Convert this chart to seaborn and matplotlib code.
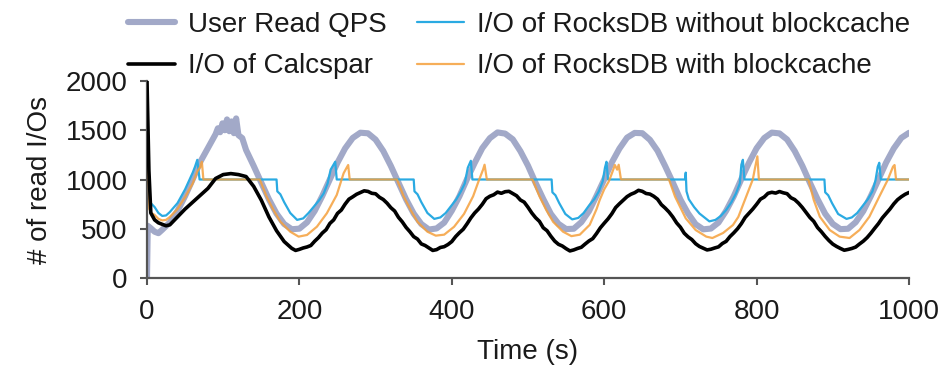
"""
Read I/O over time: user QPS vs. Calcspar vs. RocksDB (with / without blockcache).
"""

import matplotlib
matplotlib.use('Agg')
import matplotlib.pyplot as plt
import seaborn as sns

# ---- data --------------------------------------------------------------------------

# User read QPS
qps_time = [0, 1, 5, 10, 15, 20, 30, 40, 50, 60, 70, 80, 85, 90, 93, 96, 99, 102, 105,
            108, 111, 114, 117, 120, 125, 130, 140, 150, 160, 170, 180] + list(range(190, 1001, 10))
qps_vals = [0, 530, 505, 470, 455, 490, 565, 680, 832, 1002, 1180, 1320, 1390, 1460, 1520,
            1480, 1570, 1500, 1610, 1490, 1590, 1470, 1620, 1450, 1420, 1300, 1138, 968, 799, 654, 548,
            495, 501, 565, 680, 832, 1002, 1171, 1316, 1422, 1475, 1469, 1405, 1290, 1138, 968, 799, 654, 548,
            492, 503, 562, 683, 830, 1005, 1168, 1318, 1420, 1478, 1466, 1408, 1288, 1140, 965, 802, 651, 550,
            497, 500, 567, 678, 835, 1000, 1173, 1314, 1425, 1473, 1470, 1403, 1292, 1136, 970, 797, 656, 546,
            494, 502, 563, 682, 829, 1004, 1170, 1317, 1421, 1476, 1468, 1406, 1289, 1139, 966, 800, 652, 549,
            496, 500, 566, 679, 833, 1001, 1172, 1315, 1423, 1474]

# I/O of Calcspar (jagged trace, read every 5 s)
calc_time = [0, 2.5, 5, 10, 15, 20, 25, 30, 40, 50, 60, 70, 80, 90, 100, 110, 120, 130,
             140, 150, 160, 170, 180] + list(range(190, 1001, 5))
calc_vals = [2000, 1090, 660, 590, 560, 545, 530, 540, 620, 700, 770, 840, 910, 1010, 1050,
             1060, 1050, 1030, 930, 790, 620, 480, 370,
             301, 280, 291, 305, 315, 330, 373, 410, 456, 490, 554, 590, 656, 690, 750, 800, 824, 850,
             868, 885, 879, 860, 855, 820, 797, 760, 714, 680, 616, 570, 514, 470, 420, 395, 346, 330,
             305, 280, 288, 310, 318, 340, 370, 420, 460, 495, 550, 610, 660, 700, 748, 805, 830, 845,
             872, 860, 876, 880, 858, 835, 792, 770, 718, 660, 612, 575, 510, 480, 424, 375, 342, 325,
             298, 275, 285, 300, 312, 345, 376, 400, 452, 510, 556, 600, 652, 715, 754, 790, 826, 850,
             866, 890, 880, 858, 852, 830, 800, 745, 710, 670, 620, 560, 516, 455, 418, 390, 348, 320,
             303, 285, 292, 305, 316, 350, 372, 420, 458, 500, 552, 615, 658, 700, 748, 800, 822, 860,
             870, 862, 878, 865, 856, 815, 796, 760, 716, 665, 614, 575, 512, 470, 422, 380, 344, 320,
             300, 282, 290, 300, 314, 345, 374, 410, 455, 505, 553, 610, 655, 700, 752, 795, 825, 850,
             868]

# I/O of RocksDB without blockcache
nocache_time = [0, 1, 5, 10, 15, 20, 25, 30, 40, 50, 60, 63, 66, 69,
                170, 171, 175, 180, 188, 197, 205, 212, 219, 226, 232, 237, 241, 247, 249,
                350, 351, 355, 360, 368, 377, 385, 392, 399, 406, 412, 417, 421, 425, 427,
                531, 532, 536, 541, 549, 558, 566, 573, 580, 587, 593, 598, 601, 603, 605,
                706, 707, 708, 711, 718, 725, 738, 746, 753, 760, 767, 773, 778, 780, 782, 784,
                889, 890, 894, 899, 907, 918, 925, 932, 939, 946, 952, 956, 959, 961, 963, 1000]
nocache_vals = [2000, 900, 760, 720, 660, 630, 635, 670, 760, 900, 1070, 1130, 1200, 1000,
                1000, 880, 850, 770, 660, 590, 605, 660, 725, 790, 860, 960, 1100, 1180, 1000,
                1000, 880, 850, 770, 660, 600, 615, 660, 730, 800, 880, 960, 1120, 1190, 1000,
                1000, 870, 840, 760, 650, 595, 610, 660, 735, 800, 880, 980, 1120, 1180, 1000,
                1000, 1070, 880, 800, 720, 655, 575, 590, 630, 690, 770, 860, 960, 1150, 1200, 1000,
                1000, 870, 840, 760, 650, 600, 615, 660, 730, 800, 880, 990, 1130, 1170, 1000, 1000]

# I/O of RocksDB with blockcache
cache_time = [0, 3, 6, 10, 15, 20, 25, 30, 40, 50, 60, 66, 70, 72, 74,
              148, 157, 166, 175, 188, 199, 210, 223, 236, 249, 255, 258, 262, 264, 266,
              328, 337, 346, 355, 368, 379, 390, 403, 416, 428, 435, 438, 441, 443, 446,
              506, 515, 524, 533, 546, 557, 568, 581, 590, 594, 600, 606, 610, 614, 617, 619, 622,
              685, 693, 707, 720, 734, 742, 756, 769, 776, 783, 790, 795, 798, 801, 803,
              868, 875, 883, 896, 909, 922, 935, 948, 961, 972, 979, 981, 983, 1000]
cache_vals = [2000, 700, 660, 640, 600, 585, 590, 620, 700, 820, 960, 1080, 1130, 1180, 1000,
              1000, 826, 690, 572, 470, 420, 437, 521, 657, 843, 990, 1063, 1120, 1147, 1000,
              1000, 826, 690, 570, 470, 430, 440, 520, 650, 830, 980, 1040, 1100, 1150, 1000,
              1000, 830, 690, 570, 470, 425, 440, 540, 700, 790, 900, 980, 1060, 1147, 1100, 1150, 1000,
              1000, 826, 606, 487, 420, 406, 457, 538, 620, 760, 900, 1000, 1120, 1235, 1000,
              1000, 792, 622, 487, 420, 406, 487, 622, 826, 995, 1130, 1147, 1000, 1000]

y_ticks = [0, 500, 1000, 1500, 2000]
x_ticks = [0, 200, 400, 600, 800, 1000]

# ---- style ---------------------------------------------------------------------------
sns.set_theme(style='ticks')
plt.rcParams['font.family'] = ['Liberation Sans', 'DejaVu Sans']
plt.rcParams['text.color'] = '#1a1a1a'
plt.rcParams['axes.labelcolor'] = '#1a1a1a'
plt.rcParams['xtick.color'] = '#555555'
plt.rcParams['ytick.color'] = '#555555'
plt.rcParams['xtick.labelcolor'] = '#1a1a1a'
plt.rcParams['ytick.labelcolor'] = '#1a1a1a'

FS = 20

fig = plt.figure(figsize=(9.5, 3.65), dpi=100)
ax = fig.add_axes([147 / 950, 1 - 278 / 365, (909 - 147) / 950, (278 - 81) / 365])

sns.lineplot(x=qps_time, y=qps_vals, ax=ax, color='#a2a9c8', lw=4.4, sort=False,
             label='User Read QPS', zorder=1)
sns.lineplot(x=nocache_time, y=nocache_vals, ax=ax, color='#2aaae2', lw=1.6, sort=False,
             label='I/O of RocksDB without blockcache', zorder=2)
sns.lineplot(x=calc_time, y=calc_vals, ax=ax, color='black', lw=2.6, sort=False,
             label='I/O of Calcspar', zorder=4)
sns.lineplot(x=cache_time, y=cache_vals, ax=ax, color='#f5a03c', lw=1.6, sort=False,
             alpha=0.85, label='I/O of RocksDB with blockcache', zorder=3)

ax.set_xlim(0, 1000)
ax.set_ylim(0, 2000)
ax.set_xticks(x_ticks)
ax.set_yticks(y_ticks)
ax.set_xlabel('Time (s)', fontsize=FS, labelpad=10)
ax.set_ylabel('# of read I/Os', fontsize=FS, labelpad=9)
ax.tick_params(axis='both', labelsize=FS, length=5, width=1.5, direction='out')
ax.tick_params(axis='x', pad=10)
ax.tick_params(axis='y', pad=9)

sns.despine(ax=ax)
for side in ('left', 'bottom'):
    ax.spines[side].set_color('#555555')
    ax.spines[side].set_linewidth(1.6)

# legend: 2 x 2 above the plot, ordered column-wise
handles, labels = ax.get_legend_handles_labels()
order = [0, 2, 1, 3]
ax.legend([handles[i] for i in order], [labels[i] for i in order],
          ncol=2, frameon=False, fontsize=FS,
          loc='upper left', bbox_to_anchor=(128 / 950, 1 - 12 / 365),
          bbox_transform=fig.transFigure, borderpad=0, borderaxespad=0,
          handlelength=1.7, handletextpad=0.45, columnspacing=1.1, labelspacing=0.55)

fig.savefig('out.png', dpi=100)
